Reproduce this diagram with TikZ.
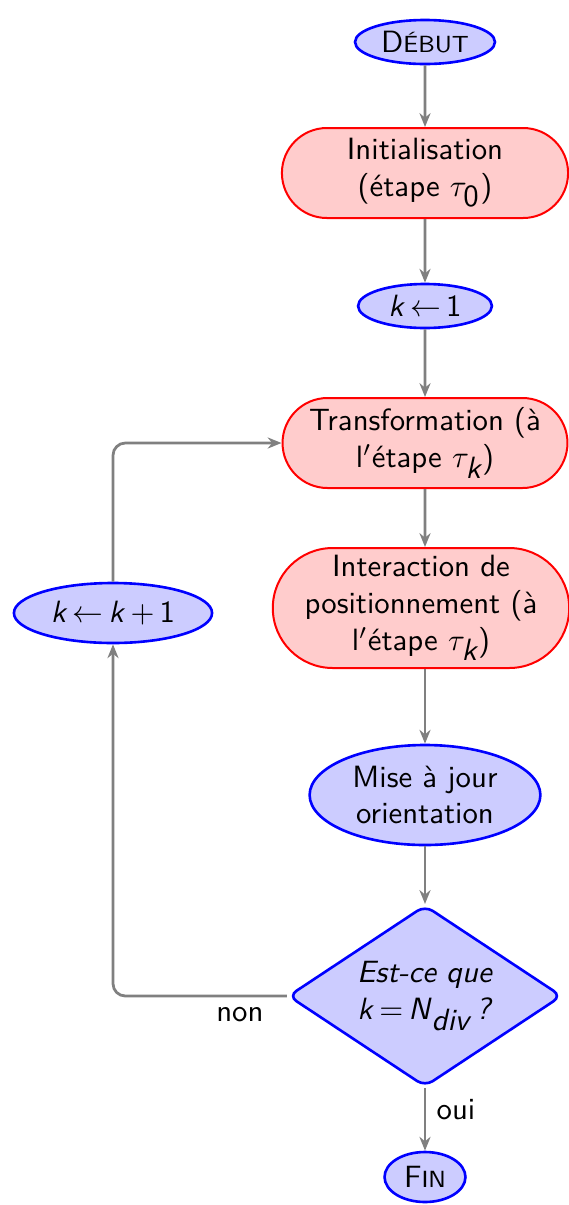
\documentclass[tikz,border=0pt]{standalone}
\usepackage{fontspec}
\usetikzlibrary{shapes.geometric,shapes.misc,arrows.meta}
\newcommand{\kk}{\textit{k}}
\newcommand{\fsc}[2]{#1{\fontsize{7.6}{9}\selectfont #2}}
\begin{document}
\begin{tikzpicture}[x=0.325pt,y=-0.325pt,font=\sffamily,
  bl/.style={draw=blue,fill=blue!20,line width=0.85pt,ellipse,inner sep=0pt,align=center},
  rd/.style={draw=red,fill=red!20,line width=0.65pt,rounded rectangle,inner sep=0pt,align=center},
  dm/.style={draw=blue,fill=blue!20,line width=0.85pt,diamond,inner sep=0pt,rounded corners=3pt},
  arr/.style={draw=gray,line width=0.9pt,-{Stealth[length=4.5pt,width=3.6pt]}}]
\useasboundingbox (0,0) rectangle (568,1205);
\node[bl,minimum width=45.5pt,minimum height=14.3pt] (deb) at (425,42) {\fsc{D}{ÉBUT}};
\node[rd,minimum width=93pt,minimum height=29.25pt] (ini) at (425,173) {Initialisation\\(étape $\tau_{\textsf{0}}$)};
\node[bl,minimum width=43.5pt,minimum height=14.3pt] (k1) at (425,306) {\kk\,$\leftarrow$\,1};
\node[rd,minimum width=92.6pt,minimum height=29.25pt] (tr) at (425,443) {Transformation (à\\l$'$étape $\tau_{\textit{k}}$)};
\node[rd,minimum width=96.2pt,minimum height=39pt] (int) at (421,608) {Interaction de\\positionnement (à\\l$'$étape $\tau_{\textit{k}}$)};
\node[bl,minimum width=75pt,minimum height=32.5pt] (maj) at (425,795) {Mise à jour\\orientation};
\node[dm,minimum width=89pt,minimum height=59pt] (dec) at (425,996) {};
\node[align=center] (dect) at (dec.center) {\textit{Est-ce que}\\\kk\,=\,\textit{N}$_{\textit{div}}$\,\textit{?}};
\node[bl,minimum width=26.3pt,minimum height=16.25pt] (fin) at (425,1177) {\fsc{F}{IN}};
\node[bl,minimum width=64.4pt,minimum height=19.5pt] (kp) at (113,613) {\kk\,$\leftarrow$\,\kk\,+\,1};
\draw[arr] (deb) -- (ini);
\draw[arr] (ini) -- (k1);
\draw[arr] (k1) -- (tr);
\draw[arr] (tr) -- (int.north -| tr.south);
\draw[arr] (int.south -| maj.north) -- (maj);
\draw[arr] (maj) -- (dec);
\draw[arr] (dec) -- node[right,pos=0.35] (oui) {oui} (fin);
\draw[arr,rounded corners=4pt] (dec.west) -- node[below,pos=0.27] (non) {non} (113,996 |- dec.west) -- (kp.south);
\draw[arr,rounded corners=4pt] (kp.north) |- (tr.west);
\end{tikzpicture}
\end{document}
